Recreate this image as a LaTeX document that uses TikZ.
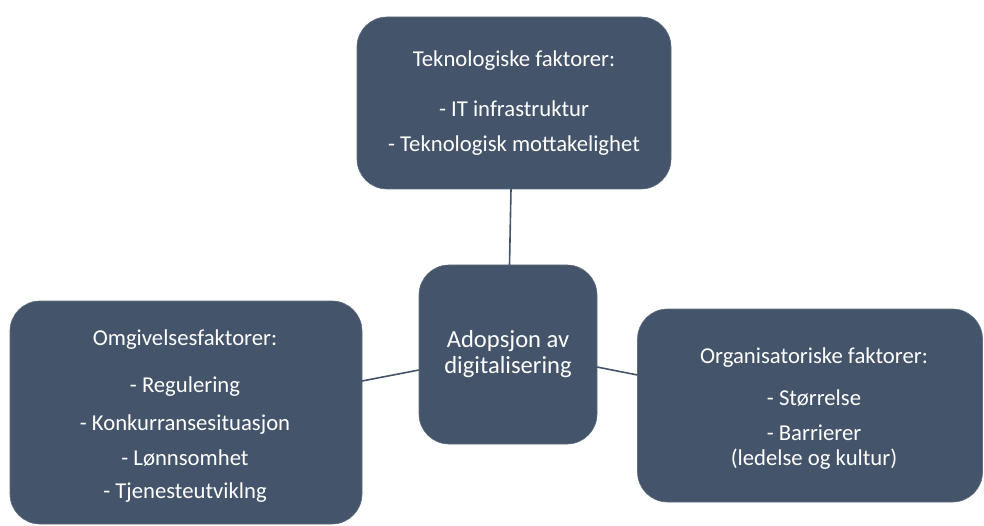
\documentclass[tikz,border=0pt]{standalone}
\usepackage{fontspec}
\setmainfont{Carlito}
\usetikzlibrary{calc}
\definecolor{slate}{HTML}{44546A}
\begin{document}
\begin{tikzpicture}[x=1pt,y=-1pt,
  box/.style={rectangle,rounded corners=30pt,fill=slate,draw=slate!85!white,line width=0.6pt,
              inner sep=0pt,outer sep=0pt},
  txt/.style={anchor=base,text=white,inner sep=0pt,font=\fontsize{22.7}{27}\selectfont},
  hubtxt/.style={txt,font=\fontsize{24.6}{29}\selectfont},
  link/.style={draw=slate,line width=1.6pt}]
\useasboundingbox (0,0) rectangle (984,526);

% boxes
\node[box,minimum width=314pt,minimum height=172pt] (tek) at (514,103) {};
\node[box,minimum width=352pt,minimum height=223pt] (omg) at (186,412.5) {};
\node[box,minimum width=178pt,minimum height=179pt] (hub) at (508,354.5) {};
\node[box,minimum width=345pt,minimum height=193pt] (org) at (810,405.5) {};

% connectors
\draw[link] ($(tek.south)+(-3,0)$) -- ($(hub.north)+(1.5,0)$);
\draw[link] ($(omg.east)+(0,-31.5)$) -- ($(hub.west)+(0,15.5)$);
\draw[link] ($(hub.east)+(0,12.5)$) -- ($(org.west)+(0,-30.5)$);

% technological factors
\node[txt] (t1) at (514,67) {Teknologiske faktorer:};
\node[txt] (t2) at (514,117) {- IT infrastruktur};
\node[txt] (t3) at (514,152) {- Teknologisk mottakelighet};

% environmental factors
\node[txt] (o1) at (185,345) {Omgivelsesfaktorer:};
\node[txt] (o2) at (185,392) {- Regulering};
\node[txt] (o3) at (185,430) {- Konkurransesituasjon};
\node[txt] (o4) at (185,465) {- Lønnsomhet};
\node[txt] (o5) at (185,498) {- Tjenesteutviklng};

% centre
\node[hubtxt] (h1) at (508,347) {Adopsjon av};
\node[hubtxt] (h2) at (508,373) {digitalisering};

% organisational factors
\node[txt] (g1) at (814,363) {Organisatoriske faktorer:};
\node[txt] (g2) at (814,405) {- Størrelse};
\node[txt] (g3) at (814,440) {- Barrierer};
\node[txt] (g4) at (814,465) {(ledelse og kultur)};
\end{tikzpicture}
\end{document}
